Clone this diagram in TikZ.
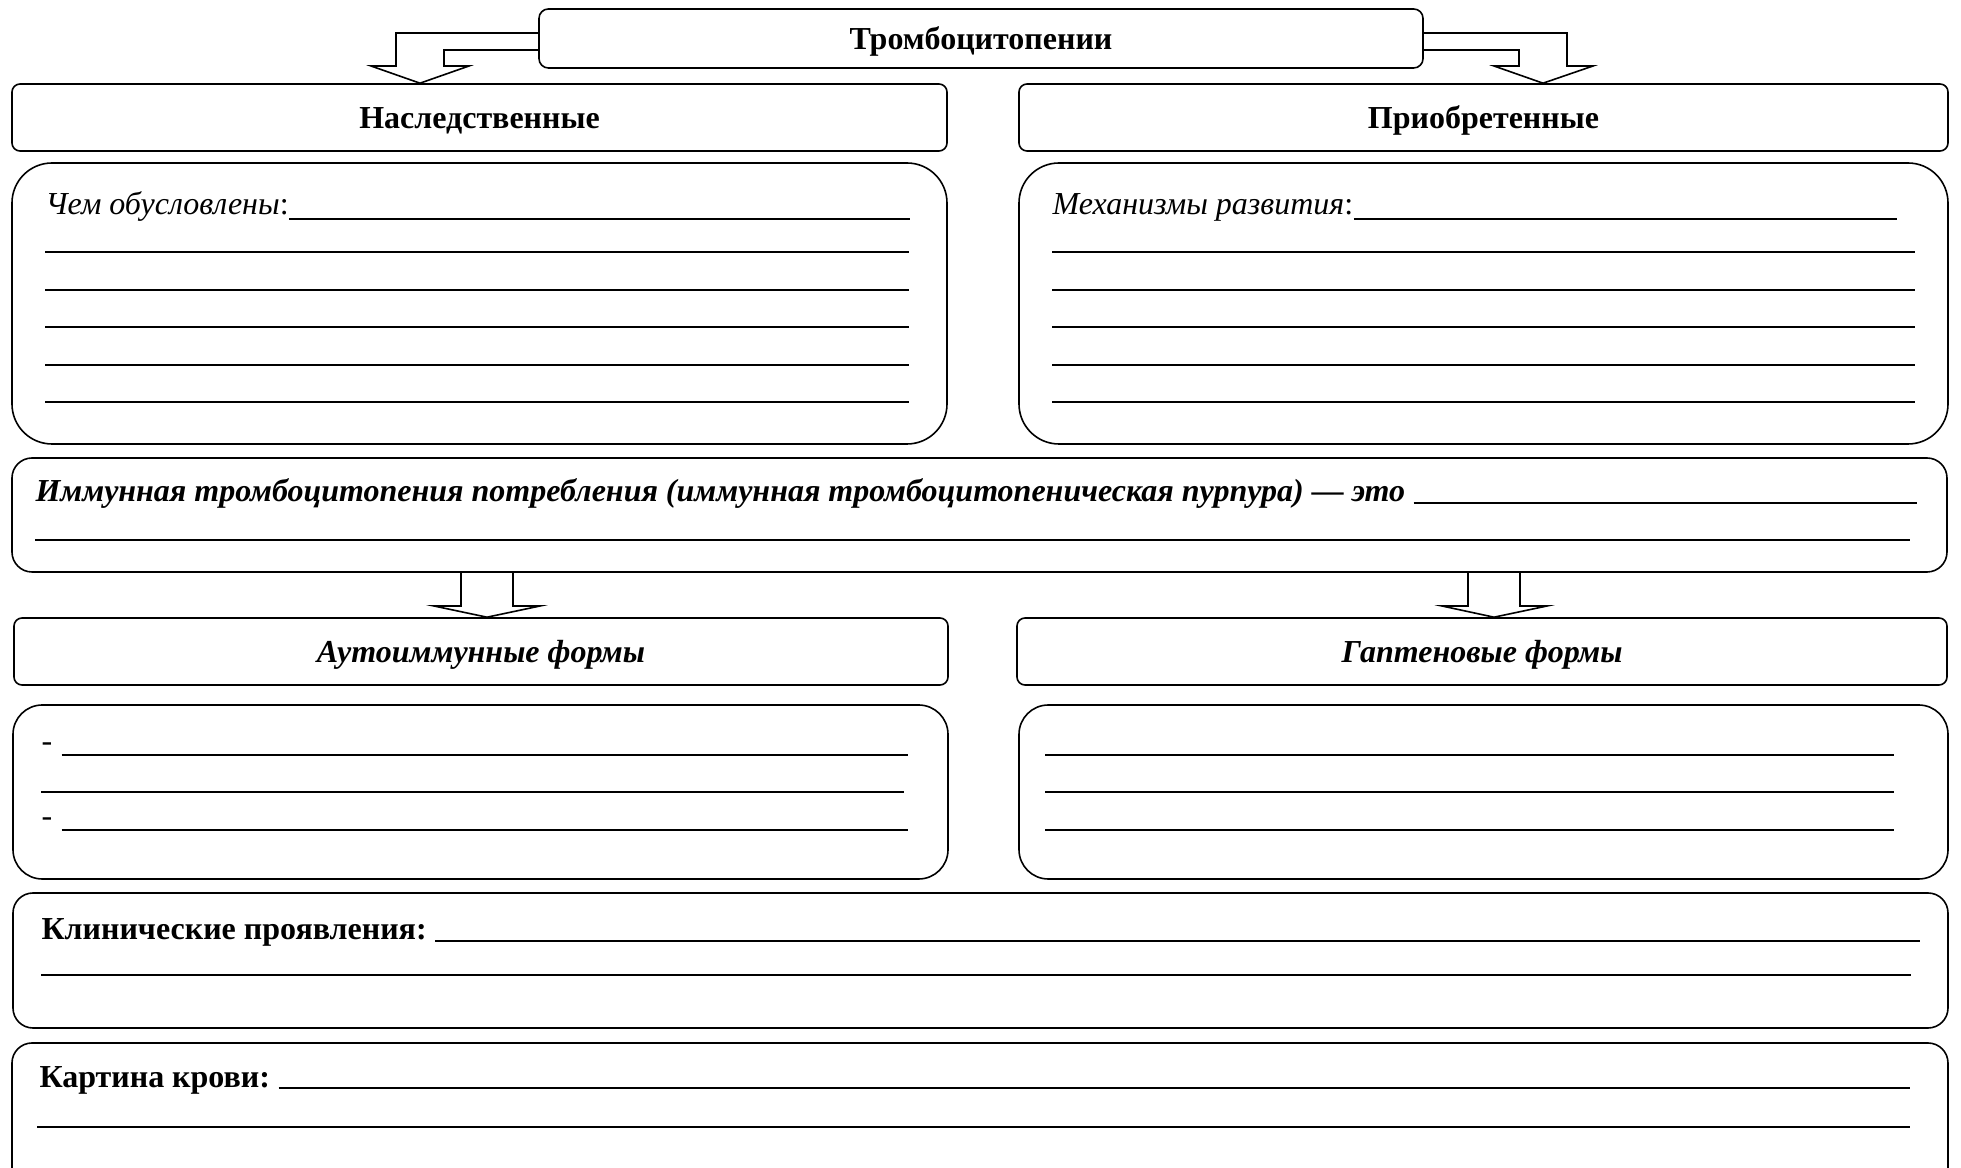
\documentclass[tikz,border=0pt]{standalone}
\usepackage{fontspec}
\setmainfont{Liberation Serif}
\usetikzlibrary{positioning}
\usetikzlibrary{fit}

\begin{document}
\begin{tikzpicture}[
    x=0.375pt, y=-0.375pt,
    font=\fontsize{12}{14}\selectfont,
    headbox/.style={rectangle, draw, line width=0.6pt, rounded corners=3pt, inner sep=0pt},
    bodybox/.style={rectangle, draw, line width=0.6pt, rounded corners=15pt, inner sep=0pt},
    listbox/.style={rectangle, draw, line width=0.6pt, rounded corners=11pt, inner sep=0pt},
    widebox/.style={rectangle, draw, line width=0.6pt, rounded corners=7.5pt, inner sep=0pt},
    headtxt/.style={inner sep=0pt, yshift=-1.2pt, font=\fontsize{12}{14}\selectfont\bfseries},
    headtxt_it/.style={headtxt, font=\fontsize{12}{14}\selectfont\bfseries\itshape},
    txt/.style={anchor=base west, inner sep=0pt},
    blank/.style={line width=0.6pt},
    blockarrow/.style={line width=0.6pt, line join=miter},
  ]
  \useasboundingbox (0,0) rectangle (1961,1168);
  \clip (0,0) rectangle (1961,1168);

  %               %Boxes
  \node[headbox, rounded corners=3.5pt, fit={(539,9) (1423,68)}]  (title)     {};
  \node[headbox, fit={(12,84) (947,151)}]     (hered)     {};
  \node[headbox, fit={(1019,84) (1948,151)}]  (acq)       {};
  \node[bodybox, fit={(12,163) (947,444)}]    (heredbody) {};
  \node[bodybox, fit={(1019,163) (1948,444)}] (acqbody)   {};
  \node[widebox, fit={(12,458) (1947,572)}]   (itp)       {};
  \node[headbox, fit={(14,618) (948,685)}]    (auto)      {};
  \node[headbox, fit={(1017,618) (1947,685)}] (hapt)      {};
  \node[listbox, fit={(13,705) (948,879)}]    (autobody)  {};
  \node[listbox, fit={(1019,705) (1948,879)}] (haptbody)  {};
  \node[widebox, fit={(13,893) (1948,1028)}]  (clin)      {};
  \node[widebox, fit={(12,1043) (1948,1190)}] (blood)     {};

  %               %Headings
  \node[headtxt]    (titlelbl) at (title.center) {Тромбоцитопении};
  \node[headtxt]    (heredlbl) at (hered.center) {Наследственные};
  \node[headtxt]    (acqlbl)   at (acq.center)   {Приобретенные};
  \node[headtxt_it] (autolbl)  at (auto.center)  {Аутоиммунные формы};
  \node[headtxt_it] (haptlbl)  at (hapt.center)  {Гаптеновые формы};

  %               %Arrows
  \draw[blockarrow] ([yshift=2.06pt]title.west) -| (396,66) -- (371,66) -- (420,0 |- hered.north)
        -- (469,66) -- (444,66) |- ([yshift=-4.31pt]title.west);
  \draw[blockarrow] ([yshift=2.06pt]title.east) -| (1567,66) -- (1593,66) -- (1543,0 |- acq.north)
        -- (1494,66) -- (1519,66) |- ([yshift=-4.31pt]title.east);
  \draw[blockarrow] (461,0 |- itp.south) -- (461,606) -- (434,606) -- (487,0 |- auto.north)
        -- (540,606) -- (513,606) -- (513,0 |- itp.south);
  \draw[blockarrow] (1468,0 |- itp.south) -- (1468,606) -- (1442,606) -- (1494,0 |- hapt.north)
        -- (1547,606) -- (1520,606) -- (1520,0 |- itp.south);

  %               %Texts and blanks
  \node[txt] (heredtxt) at (45,215) {\textit{Чем обусловлены}:};
  \draw[blank] (heredtxt.base east) ++(0,4) -- (910,219);
  \foreach \y in {252,290,327,365,402} \draw[blank] (45,\y) -- (909,\y);

  \node[txt] (acqtxt) at (1052,215) {\textit{Механизмы развития}:};
  \draw[blank] (acqtxt.base east) ++(0,4) -- (1897,219);
  \foreach \y in {252,290,327,365,402} \draw[blank] (1052,\y) -- (1915,\y);

  \node[txt, font=\fontsize{12}{14}\selectfont\bfseries\itshape] (itptxt) at (35,502)
        {Иммунная тромбоцитопения потребления (иммунная тромбоцитопеническая пурпура) — это};
  \draw[blank] (itptxt.base east) ++(8,1) -- (1917,503);
  \draw[blank] (35,540) -- (1910,540);

  \node[txt] (dash1) at (41,752) {-};
  \draw[blank] (dash1.base east) ++(9,3) -- (908,755);
  \draw[blank] (41,792) -- (904,792);
  \node[txt] (dash2) at (41,827) {-};
  \draw[blank] (dash2.base east) ++(9,3) -- (908,830);

  \foreach \y in {755,792,830} \draw[blank] (1045,\y) -- (1894,\y);

  \node[txt, font=\fontsize{12}{14}\selectfont\bfseries] (clintxt) at (41,940) {Клинические проявления:};
  \draw[blank] (clintxt.base east) ++(8,1) -- (1920,941);
  \draw[blank] (41,975) -- (1911,975);

  \node[txt, font=\fontsize{12}{14}\selectfont\bfseries] (bloodtxt) at (39,1088) {Картина крови:};
  \draw[blank] (bloodtxt.base east) ++(8,0) -- (1910,1088);
  \draw[blank] (37,1127) -- (1910,1127);
\end{tikzpicture}
\end{document}
